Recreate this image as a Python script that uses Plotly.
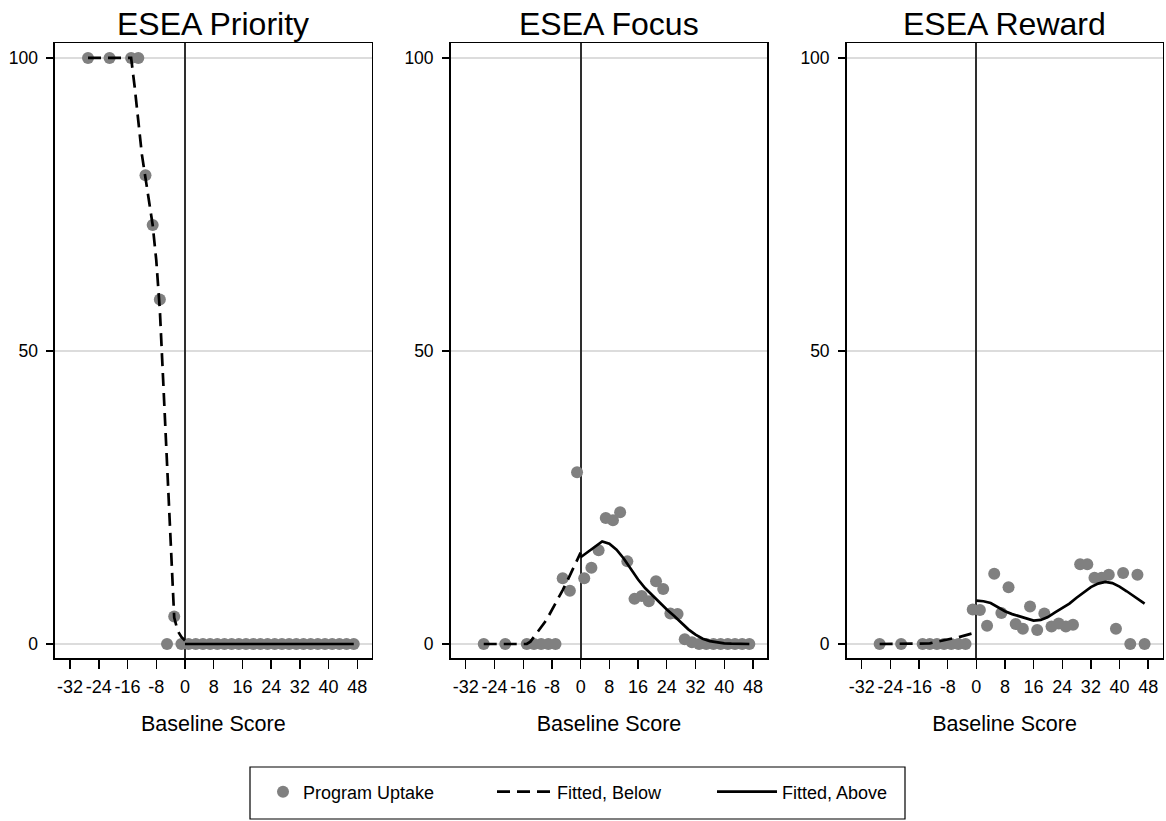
import plotly.graph_objects as go

# ---------------- data ----------------
x_bins = [-27, -21, -15, -13, -11, -9, -7, -5, -3, -1,
          1, 3, 5, 7, 9, 11, 13, 15, 17, 19, 21, 23, 25, 27,
          29, 31, 33, 35, 37, 39, 41, 43, 45, 47]

priority_uptake = [100, 100, 100, 100, 80, 71.5, 58.8, 0, 4.7, 0,
                   0, 0, 0, 0, 0, 0, 0, 0, 0, 0, 0, 0, 0, 0,
                   0, 0, 0, 0, 0, 0, 0, 0, 0, 0]
focus_uptake = [0, 0, 0, 0, 0, 0, 0, 11.2, 9.1, 29.3,
                11.2, 13, 16, 21.5, 21.1, 22.5, 14.1, 7.7, 8.2, 7.3, 10.7, 9.4, 5.2, 5.1,
                0.8, 0.3, 0, 0, 0, 0, 0, 0, 0, 0]
reward_uptake = [0, 0, 0, 0, 0, 0, 0, 0, 0, 5.9,
                 5.8, 3.1, 12.0, 5.3, 9.7, 3.4, 2.6, 6.4, 2.4, 5.2, 3.0, 3.5, 3.0, 3.3,
                 13.6, 13.6, 11.3, 11.3, 11.8, 2.6, 12.1, 0, 11.8, 0]

below_x = [-27, -21, -15, -14, -13, -12, -11, -10, -9, -8, -7, -6, -5, -4, -3, -2, -1, 0]
priority_below = [100, 100, 100, 95, 89, 83.5, 79.5, 75.5, 71.5, 65.5, 57, 44, 30.5, 17, 4.5, 2.2, 1.2, 0.6]
focus_below = [0, 0, 0, 0.4, 1.2, 2.0, 2.9, 3.7, 4.7, 5.8, 6.8, 8.0, 9.2, 10.4, 11.7, 13.0, 14.3, 15.6]
reward_below = [0, 0, 0, 0.05, 0.1, 0.25, 0.4, 0.5, 0.65, 0.8, 0.95, 1.05, 1.15, 1.3, 1.45, 1.6, 1.75, 2.0]

above_x = [0, 2, 4, 6, 8, 10, 12, 14, 16, 18, 20, 22, 24, 26, 28, 30, 32, 34, 36, 38, 40, 42, 44, 46, 47]
priority_above = [0, 0, 0, 0, 0, 0, 0, 0, 0, 0, 0, 0, 0, 0, 0, 0, 0, 0, 0, 0, 0, 0, 0, 0, 0]
focus_above = [14.8, 15.7, 16.7, 17.5, 17.1, 16.1, 14.6, 12.7, 11.0, 9.5, 8.3, 7.0, 5.9, 4.8, 3.6, 2.5,
               1.6, 0.9, 0.5, 0.25, 0.1, 0.05, 0, 0, 0]
reward_above = [7.4, 7.3, 7.0, 6.3, 5.6, 5.1, 4.7, 4.3, 4.0, 4.1, 4.6, 5.4, 6.2, 6.9, 7.9, 8.8,
                9.7, 10.3, 10.6, 10.4, 9.8, 9.0, 8.1, 7.3, 6.9]

panel_titles = ["ESEA Priority", "ESEA Focus", "ESEA Reward"]
x_tickvals = [-32, -24, -16, -8, 0, 8, 16, 24, 32, 40, 48]
x_ticktext = ["-32", "-24", "-16", "-8", "0", "8", "16", "24", "32", "40", "48"]
y_tickvals = [0, 50, 100]
y_ticktext = ["0", "50", "100"]
x_title = "Baseline Score"
legend_names = ["Program Uptake", "Fitted, Below", "Fitted, Above"]

uptakes = [priority_uptake, focus_uptake, reward_uptake]
belows = [priority_below, focus_below, reward_below]
aboves = [priority_above, focus_above, reward_above]

# ---------------- figure ----------------
W, H = 1166, 821
FONT = "Liberation Sans, Arial, Helvetica, sans-serif"
GRAY = "#808080"

fig = go.Figure()
for i in range(3):
    xa = "x" if i == 0 else f"x{i+1}"
    ya = "y" if i == 0 else f"y{i+1}"
    fig.add_trace(go.Scatter(x=x_bins, y=uptakes[i], mode="markers", name=legend_names[0],
                             marker=dict(color=GRAY, size=12, line=dict(width=0)),
                             xaxis=xa, yaxis=ya, showlegend=(i == 0), legend="legend"))
    fig.add_trace(go.Scatter(x=below_x, y=belows[i], mode="lines", name=legend_names[1],
                             line=dict(color="black", width=2.7, dash="13px,7px"),
                             xaxis=xa, yaxis=ya, showlegend=(i == 0), legend="legend2"))
    fig.add_trace(go.Scatter(x=above_x, y=aboves[i], mode="lines", name=legend_names[2],
                             line=dict(color="black", width=2.7),
                             xaxis=xa, yaxis=ya, showlegend=(i == 0), legend="legend3"))

# panel pixel geometry
px_left = [55, 450.7, 846.7]
px_right = [371.7, 767.3, 1162.5]
px_top, px_bottom = 43.3, 658.3
ydom = [(H - px_bottom) / H, (H - px_top) / H]

legend_font = dict(size=18, family=FONT, color="black")
legend_y = 1 - 792 / H


def legend_box(x_px, item_w):
    return dict(orientation="h", x=x_px / W, xanchor="left", y=legend_y, yanchor="middle",
                borderwidth=0, bgcolor="rgba(0,0,0,0)", font=legend_font, itemwidth=item_w)


layout = dict(
    width=W, height=H, autosize=False,
    margin=dict(l=0, r=0, t=0, b=0),
    paper_bgcolor="white", plot_bgcolor="white",
    font=dict(family=FONT, color="black"),
    showlegend=True,
    legend=legend_box(263, 30),
    legend2=legend_box(492, 55),
    legend3=legend_box(712, 60),
    annotations=[],
    shapes=[dict(type="rect", xref="paper", yref="paper",
                 x0=250 / W, x1=905 / W, y0=1 - 819 / H, y1=1 - 767 / H,
                 line=dict(color="black", width=1.2), fillcolor="rgba(0,0,0,0)")],
)

for i in range(3):
    sx = "" if i == 0 else str(i + 1)
    layout["xaxis" + sx] = dict(
        domain=[px_left[i] / W, px_right[i] / W], anchor="y" + sx,
        range=[-36.2, 52.0], tickmode="array", tickvals=x_tickvals, ticktext=x_ticktext,
        ticks="outside", ticklen=9, tickwidth=1.4, tickcolor="black",
        tickfont=dict(size=18, family=FONT, color="black"), ticklabelstandoff=2,
        showline=True, linecolor="black", linewidth=1.6, mirror=True,
        showgrid=False, zeroline=True, zerolinecolor="#2e2e2e", zerolinewidth=2,
        automargin=False, fixedrange=True,
        title=dict(text=x_title, font=dict(size=21.5, family=FONT, color="black"), standoff=20),
    )
    layout["yaxis" + sx] = dict(
        domain=ydom, anchor="x" + sx,
        range=[-2.44, 102.5], tickmode="array", tickvals=y_tickvals, ticktext=y_ticktext,
        ticks="outside", ticklen=7, tickwidth=1.4, tickcolor="black",
        tickfont=dict(size=17.5, family=FONT, color="black"), ticklabelstandoff=5,
        showline=True, linecolor="black", linewidth=1.6, mirror=True,
        showgrid=True, gridcolor="#dcdcdc", gridwidth=1.5, zeroline=False,
        automargin=False, fixedrange=True,
    )
    layout["annotations"].append(dict(
        text=panel_titles[i], xref=("x" + sx) + " domain", x=0.5, xanchor="center",
        yref="paper", y=1 - 24 / H, yanchor="middle", showarrow=False,
        font=dict(size=32, family=FONT, color="black")))

fig.update_layout(**layout)
fig.write_html("out.html", config={"displayModeBar": False, "staticPlot": True},
               post_script="document.body.style.margin='0px';")
